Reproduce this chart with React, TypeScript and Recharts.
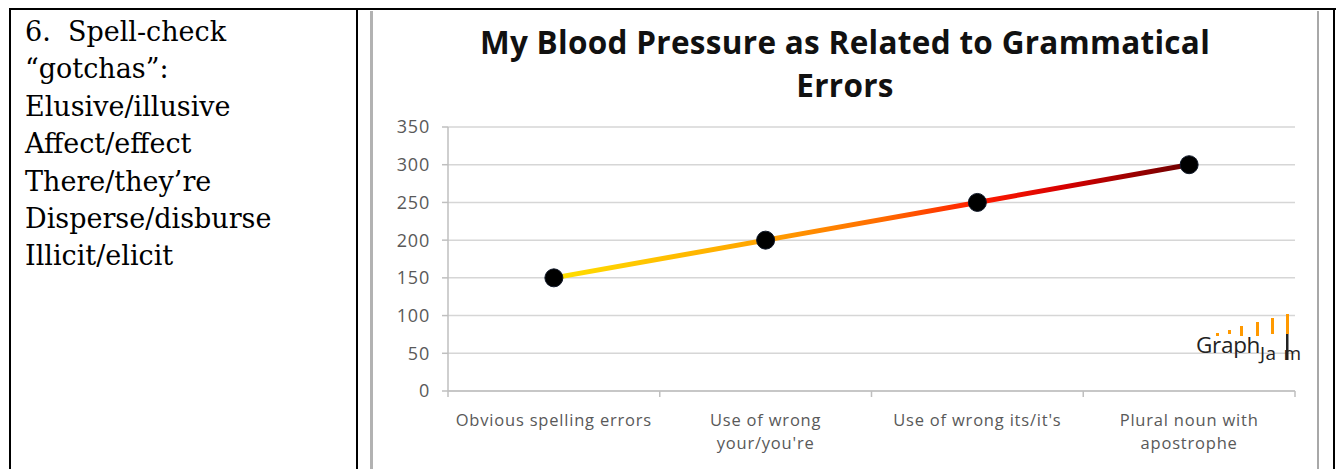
import { CartesianGrid, Line, LineChart, XAxis, YAxis } from 'recharts';

const categories = [
  'Obvious spelling errors',
  "Use of wrong your/you're",
  "Use of wrong its/it's",
  'Plural noun with apostrophe',
];
// how each category label wraps under the axis
const categoryLines = [
  ['Obvious spelling errors'],
  ['Use of wrong', "your/you're"],
  ["Use of wrong its/it's"],
  ['Plural noun with', 'apostrophe'],
];
const pressure = [150, 200, 250, 300];
const yTicks = [0, 50, 100, 150, 200, 250, 300, 350];

const titleLines = ['My Blood Pressure as Related to Grammatical', 'Errors'];

const noteLines = [
  '6.  Spell-check',
  '\u201cgotchas\u201d:',
  'Elusive/illusive',
  'Affect/effect',
  'There/they\u2019re',
  'Disperse/disburse',
  'Illicit/elicit',
];

const data = categories.map((c, i) => ({ cat: c, value: pressure[i] }));

const LABEL_FONT = '"Open Sans", Lato, sans-serif';

function CategoryTick(props: any) {
  const { x, y, payload, index } = props;
  const lines = categoryLines[index] || [payload.value];
  const axisY = y - 8;
  const off = payload.offset || 0;
  return (
    <g>
      <line x1={x - off} x2={x - off} y1={axisY} y2={axisY + 6} stroke="#bfbfbf" strokeWidth={1.5} />
      {index === categories.length - 1 && (
        <line x1={x + off} x2={x + off} y1={axisY} y2={axisY + 6} stroke="#bfbfbf" strokeWidth={1.5} />
      )}
      {lines.map((l: string, i: number) => (
        <text
          key={i}
          x={x}
          y={y + 27 + i * 22.5}
          textAnchor="middle"
          fill="#595959"
          fontSize={16.5}
          letterSpacing={0.8}
          fontFamily={LABEL_FONT}
        >
          {l}
        </text>
      ))}
    </g>
  );
}

export default function App() {
  return (
    <div style={{ position: 'absolute', left: 0, top: 0, width: 1337, height: 469, background: '#fff', overflow: 'hidden' }}>
      {/* table borders */}
      <div style={{ position: 'absolute', left: 9, top: 8, width: 1327, height: 2, background: '#000' }} />
      <div style={{ position: 'absolute', left: 9, top: 8, width: 2, height: 461, background: '#000' }} />
      <div style={{ position: 'absolute', left: 356, top: 8, width: 2, height: 461, background: '#000' }} />
      <div style={{ position: 'absolute', left: 1333, top: 8, width: 2, height: 461, background: '#000' }} />

      <div
        style={{
          position: 'absolute',
          left: 25,
          top: 13,
          fontFamily: '"DejaVu Serif", serif',
          fontSize: 27,
          lineHeight: '37.4px',
          whiteSpace: 'pre',
          color: '#000',
        }}
      >
        {noteLines.map((l, i) => (
          <div key={i}>{l}</div>
        ))}
      </div>

      <div
        style={{
          position: 'absolute',
          left: 370,
          top: 11,
          width: 944,
          height: 458,
          borderLeft: '3px solid #b2b2b2',
          borderRight: '2px solid #a8a8a8',
        }}
      >
        <div
          style={{
            position: 'absolute',
            left: 0,
            top: 9,
            width: 944,
            textAlign: 'center',
            fontFamily: LABEL_FONT,
            fontWeight: 700,
            fontSize: 31.5,
            letterSpacing: 0.3,
            lineHeight: '43px',
            color: '#111',
          }}
        >
          {titleLines.map((t, i) => (
            <div key={i}>{t}</div>
          ))}
        </div>
        <LineChart width={944} height={458} data={data} margin={{ top: 116, right: 22, bottom: 18, left: 0 }}>
          <defs>
            <linearGradient id="bpLine" x1="0" y1="0" x2="1" y2="0">
              <stop offset="0" stopColor="#ffe000" />
              <stop offset="0.33" stopColor="#ffa200" />
              <stop offset="0.52" stopColor="#ff6a00" />
              <stop offset="0.67" stopColor="#ff1c00" />
              <stop offset="0.8" stopColor="#d80000" />
              <stop offset="1" stopColor="#6b0000" />
            </linearGradient>
          </defs>
          <CartesianGrid vertical={false} stroke="#d6d6d6" strokeWidth={1.5} />
          <XAxis
            dataKey="cat"
            scale="band"
            interval={0}
            height={60}
            tickSize={6}
            tickMargin={2}
            tickLine={false}
            axisLine={{ stroke: '#bfbfbf', strokeWidth: 1.5 }}
            tick={<CategoryTick />}
          />
          <YAxis
            domain={[0, 350]}
            ticks={yTicks}
            width={75}
            tickSize={6}
            tickMargin={12}
            axisLine={{ stroke: '#bfbfbf', strokeWidth: 1.5 }}
            tickLine={{ stroke: '#bfbfbf', strokeWidth: 1.5 }}
            tick={{ fill: '#595959', fontSize: 18, letterSpacing: 0.8, fontFamily: LABEL_FONT }}
          />
          <Line
            type="linear"
            dataKey="value"
            stroke="url(#bpLine)"
            strokeWidth={5}
            dot={{ r: 9, fill: '#000', stroke: '#101828', strokeWidth: 1 }}
            activeDot={false}
            isAnimationActive={false}
          />
        </LineChart>
      </div>

      {/* GraphJam watermark */}
      <svg style={{ position: 'absolute', left: 1190, top: 308 }} width={125} height={62}>
        <g fill="#ff9900">
          <rect x={26} y={25} width={3} height={3} />
          <rect x={38} y={22} width={3} height={4} />
          <rect x={50} y={18} width={3} height={10} />
          <rect x={66} y={14} width={3} height={14} />
          <rect x={81} y={10} width={3} height={16} />
          <rect x={96} y={6} width={3} height={20} />
        </g>
        <rect x={96} y={26} width={2.5} height={26} fill="#222" />
        <text x={6} y={45} fontFamily={LABEL_FONT} fontSize={22.5} letterSpacing={-0.3} fill="#222">
          Graph
        </text>
        <text x={70} y={52} fontFamily={LABEL_FONT} fontSize={19} letterSpacing={0.5} fill="#222">
          Ja
        </text>
        <text x={93.5} y={52} fontFamily={LABEL_FONT} fontSize={19} fill="#222">
          m
        </text>
      </svg>
    </div>
  );
}
